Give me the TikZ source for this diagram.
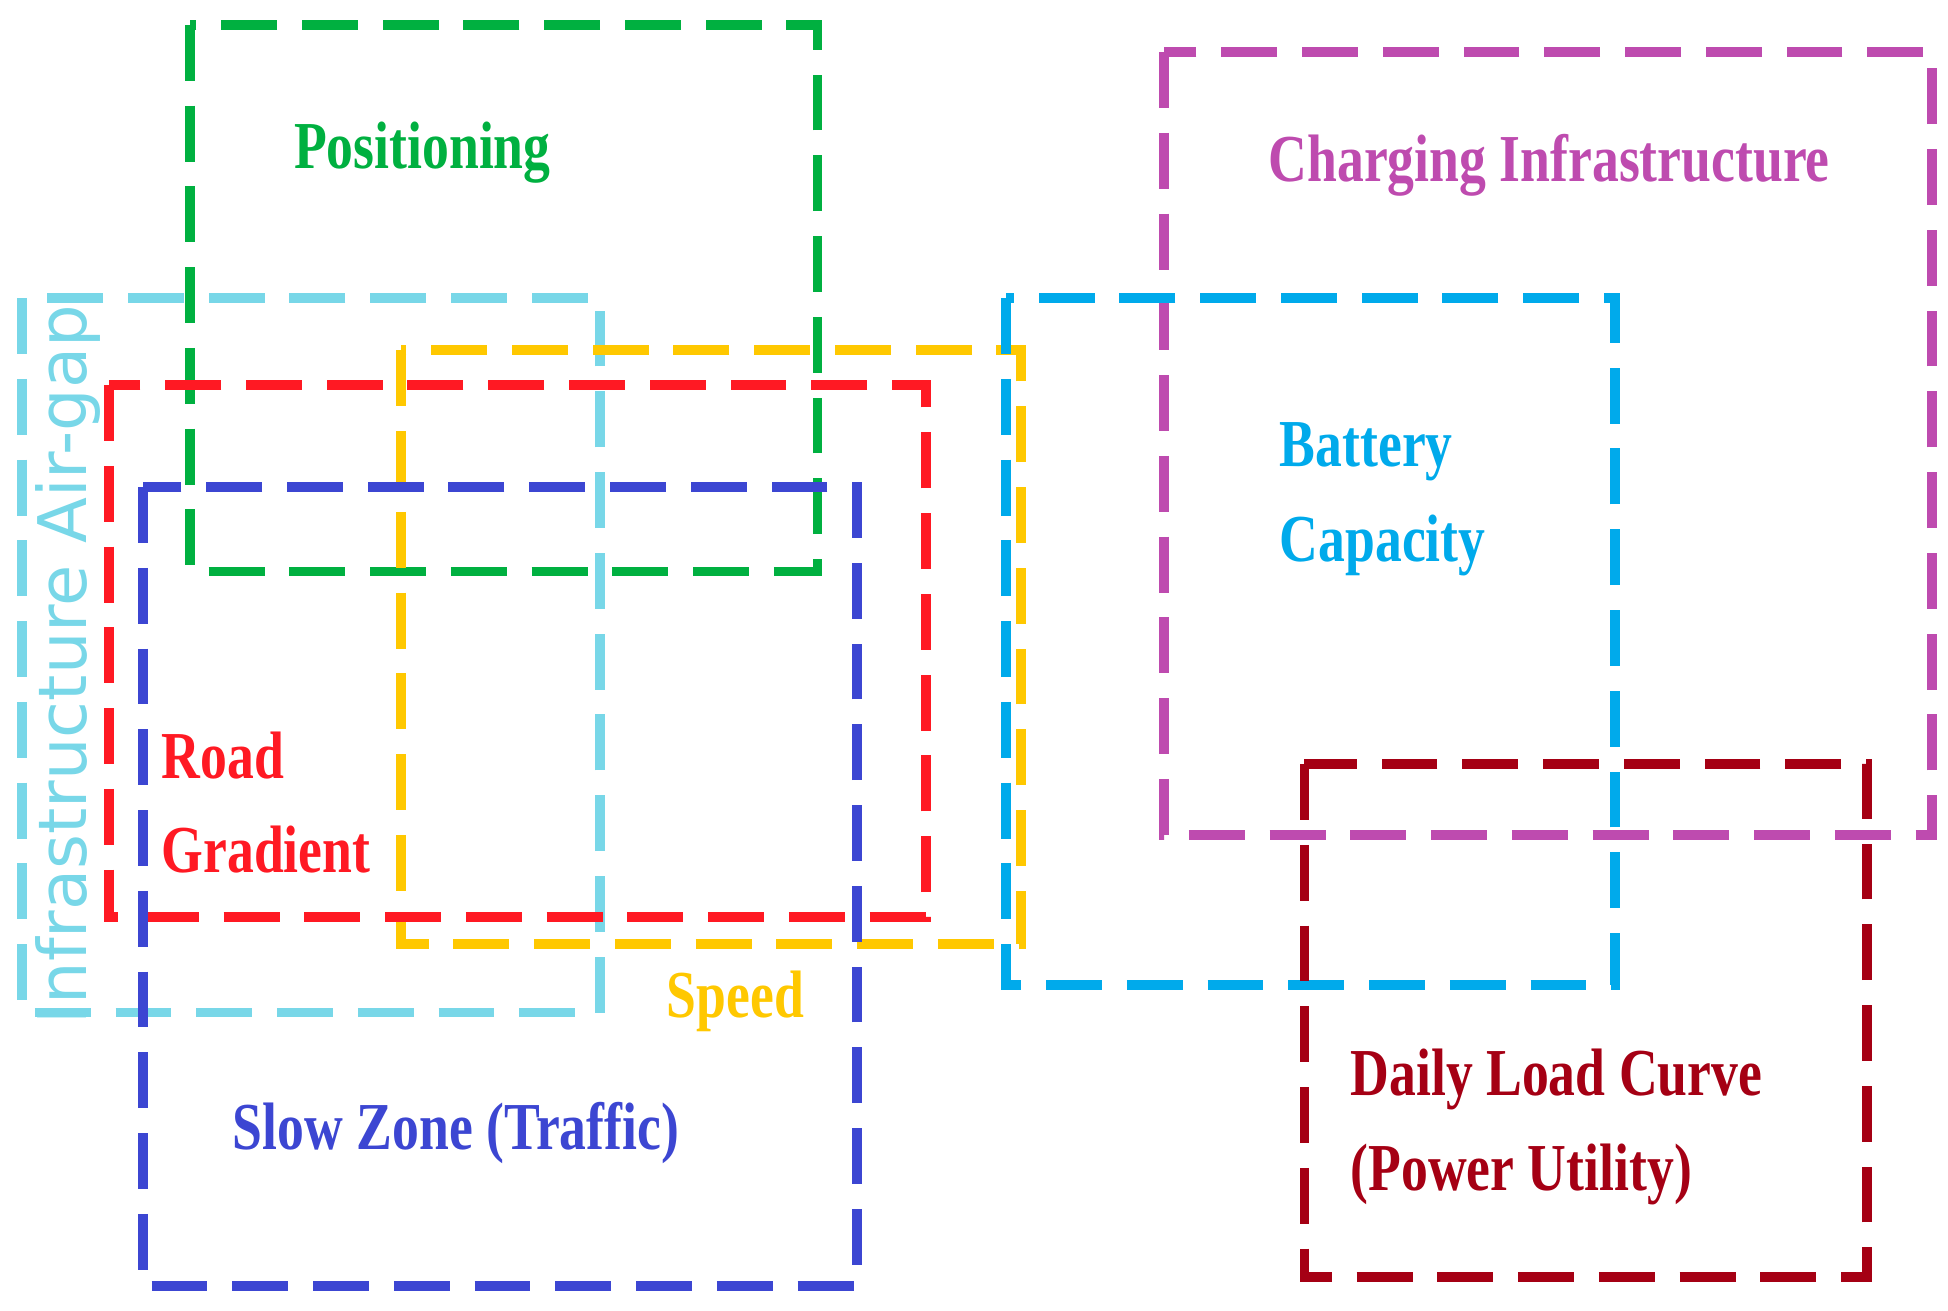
\documentclass[tikz,border=0pt]{standalone}
\usepackage{fontspec}
\setmainfont{Liberation Serif}
\setsansfont{DejaVu Sans}
\definecolor{posgreen}{RGB}{0,176,64}
\definecolor{airgap}{RGB}{120,215,232}
\definecolor{speedyellow}{RGB}{255,200,0}
\definecolor{roadred}{RGB}{255,25,35}
\definecolor{slowblue}{RGB}{60,70,210}
\definecolor{battblue}{RGB}{0,170,235}
\definecolor{chargemag}{RGB}{190,75,175}
\definecolor{loadred}{RGB}{165,0,20}
\tikzset{
  zone/.style = {line width=8pt, dash pattern=on 45pt off 20pt},
  label/.style = {font=\bfseries\fontsize{54}{76}\selectfont, inner sep=0pt,
                  xscale=0.8, align=left},
}
\begin{document}
\begin{tikzpicture}[x=1pt, y=-1pt]
  \useasboundingbox (0,0) rectangle (1568,1055);

  %% The zones, drawn back to front
  \draw [zone, posgreen] (153,20) rectangle (658,460);
  \draw [zone, airgap] (18,240) rectangle (483,815);
  \draw [zone, speedyellow] (323,282) rectangle (822,760);
  \draw [zone, roadred] (88,310) rectangle (745,738);
  \draw [zone, slowblue] (115,392) rectangle (690,1035);
  \draw [zone, chargemag] (937,42) rectangle (1555,672);
  \draw [zone, battblue] (810,240) rectangle (1300,793);
  \draw [zone, loadred] (1050,615) rectangle (1503,1028);

  %% Zone labels
  \node [label, posgreen] (positioning) at (340,123) {Positioning};
  \node [font=\sffamily\fontsize{54}{60}\selectfont, airgap, rotate=90,
         inner sep=0pt] (air gap) at (55,535) {Infrastructure Air-gap};
  \node [label, speedyellow] (speed) at (592,806) {Speed};
  \node [label, roadred, anchor=west] (road) at (130,646) {Road\\Gradient};
  \node [label, slowblue] (slow) at (367,912) {Slow Zone (Traffic)};
  \node [label, chargemag] (charging) at (1247,133) {Charging Infrastructure};
  \node [label, battblue, anchor=west] (battery) at (1030,402) {Battery\\Capacity};
  \node [label, loadred, anchor=west] (load) at (1087,907)
        {Daily Load Curve\\(Power Utility)};
\end{tikzpicture}
\end{document}
